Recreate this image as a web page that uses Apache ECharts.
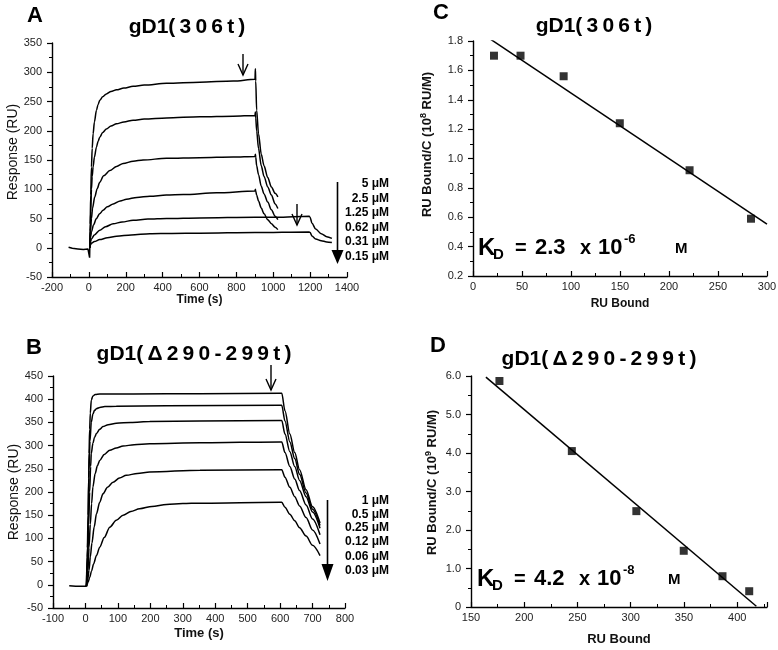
<!DOCTYPE html>
<html><head><meta charset="utf-8">
<script src="https://cdn.jsdelivr.net/npm/echarts@6/dist/echarts.min.js"></script>
<style>html,body{margin:0;padding:0;background:#fff}#c{width:778px;height:650px}</style>
</head><body><div id="c"></div>
<script>
// ---------- Panel A: gD1(306t) sensorgrams (time s, response RU) ----------
const A_baseline = [[-110,1],[-90,-1],[-60,-2],[-30,-3],[-5,-2],[3,-2],[4,-17],[5,0]];
const A_5uM   = [[5,0],[7,40],[10,90],[14,138],[18,170],[23,195],[30,215],[41,235],[50,245],[59,252],[75,258],[95,263],[120,267],[150,270],[190,273],[240,276],[300,278],[421,281],[602,283],[783,285],[901,288],[903,306],[905,285],[910,235],[920,195],[935,160],[950,140],[970,120],[990,104],[1010,93],[1025,87]];
const A_2_5uM = [[5,0],[7,28],[10,62],[14,100],[18,122],[23,138],[30,155],[41,172],[50,182],[59,189],[75,197],[95,203],[120,208],[150,212],[190,215],[240,218],[300,220],[421,222],[602,224],[783,225],[901,226],[903,232],[905,222],[910,200],[920,170],[935,140],[950,122],[970,104],[990,90],[1010,75],[1025,67]];
const A_1_25uM = [[5,0],[9,30],[14,50],[20,68],[32,87],[45,101],[59,112],[80,123],[114,132],[150,139],[186,144],[240,148],[294,150],[421,153],[602,154],[783,155],[901,156],[903,160],[905,155],[910,140],[920,125],[935,105],[950,92],[970,78],[990,65],[1010,54],[1025,48]];
const A_0_62uM = [[5,0],[9,18],[14,27],[25,39],[41,50],[58,58],[77,64],[100,70],[132,75],[170,80],[204,83],[260,86],[331,88],[420,90],[512,91],[693,94],[901,97],[903,100],[905,97],[910,90],[920,80],[935,68],[950,58],[970,48],[990,41],[1010,35],[1025,31]];
const A_0_31uM = [[5,0],[9,10],[14,15],[30,22],[59,30],[90,36],[132,41],[180,44],[240,47],[320,49],[421,50],[602,51],[901,52],[1019,52],[1195,54],[1200,52],[1210,42],[1230,32],[1260,24],[1290,19],[1318,16]];
const A_0_15uM = [[5,0],[9,5],[14,8],[30,10.5],[59,14],[100,17],[150,19.5],[230,22],[331,24],[450,24.5],[602,25],[901,26],[1195,27],[1200,26],[1210,20],[1230,15],[1260,12],[1290,10],[1318,9]];
const A_conc = ['5 μM','2.5 μM','1.25 μM','0.62 μM','0.31 μM','0.15 μM'];

// ---------- Panel B: gD1(Δ290-299t) sensorgrams ----------
const B_baseline = [[-50,-2],[-30,-3],[-10,-3],[3,-3]];
const B_1uM    = [[3,-3],[6,80],[8,150],[10,230],[11,283],[13,335],[15,370],[18,398],[23,407],[30,410],[44,411],[147,411],[353,412],[600,413],[605,413],[615,375],[630,325],[645,285],[660,248],[680,205],[700,168],[723,133]];
const B_0_5uM  = [[3,-3],[6,60],[8,120],[11,247],[14,310],[18,350],[23,368],[28,376],[35,380],[44,382],[60,384],[95,385],[250,386],[600,387],[605,387],[615,353],[630,308],[645,272],[660,238],[680,198],[700,163],[723,128]];
const B_0_25uM = [[3,-3],[6,30],[8,67],[10,130],[13,200],[16,255],[18,283],[23,305],[28,318],[34,326],[44,335],[54,341],[70,345],[95,348],[140,350],[198,352],[353,353],[600,354],[605,354],[615,325],[630,287],[645,255],[660,225],[680,190],[700,157],[723,122]];
const B_0_12uM = [[3,-3],[6,15],[8,31],[11,80],[15,130],[19,175],[23,211],[30,240],[37,257],[44,268],[58,281],[75,290],[95,295],[116,299],[150,302],[198,304],[353,306],[600,308],[605,308],[615,285],[630,255],[645,228],[660,203],[680,172],[700,142],[723,108]];
const B_0_06uM = [[3,-3],[7,12],[11,31],[15,60],[20,90],[27,125],[34,153],[44,178],[54,196],[68,210],[85,221],[105,230],[126,236],[160,240],[198,243],[353,247],[600,248],[605,248],[615,232],[630,210],[645,190],[660,170],[680,145],[700,118],[723,88]];
const B_0_03uM = [[3,-3],[8,5],[13,16],[19,30],[25,45],[34,63],[44,81],[58,102],[75,124],[95,139],[116,150],[140,158],[167,164],[205,169],[250,173],[300,175],[353,176],[600,178],[605,178],[615,167],[630,152],[645,138],[660,123],[680,105],[700,85],[723,63]];
const B_conc = ['1 μM','0.5 μM','0.25 μM','0.12 μM','0.06 μM','0.03 μM'];

// ---------- Panel C: Scatchard gD1(306t) ----------
const C_x = [21.4, 48.5, 92.5, 149.8, 221, 283.7];
const C_y = [1.70, 1.70, 1.56, 1.24, 0.92, 0.59];
const C_fit = [[17, 1.816], [300, 0.554]];

// ---------- Panel D: Scatchard gD1(Δ290-299t) ----------
const D_x = [176.7, 244.7, 305.3, 349.8, 386.2, 411.3];
const D_y = [5.87, 4.05, 2.49, 1.46, 0.80, 0.41];
const D_fit = [[164, 5.97], [418, 0.02]];

const FF = '"Liberation Sans", Arial, Helvetica, sans-serif';
const BLK = '#000';

function axisBase(gridIndex, min, max, interval, isX, fmt, extra) {
  return Object.assign({
    type: 'value', gridIndex, min, max, interval,
    axisLine: { show: true, onZero: false, lineStyle: { color: BLK, width: 1.4 } },
    axisTick: { show: true, inside: isX, length: 5, lineStyle: { color: BLK, width: 1.2 } },
    minorTick: { show: true, splitNumber: 2, length: 3, lineStyle: { color: BLK, width: 1 } },
    splitLine: { show: false },
    axisLabel: { color: '#222', fontSize: 11, fontFamily: FF, margin: isX ? 5 : 10,
      formatter: fmt || (v => String(v)) },
    nameLocation: 'middle'
  }, extra || {});
}

const lineStyleS = { color: BLK, width: 1.5 };
function curve(data, xi, smooth) {
  return { type: 'line', xAxisIndex: xi, yAxisIndex: xi, data, showSymbol: false, symbol: 'none',
    smooth: smooth === undefined ? 0.3 : smooth, smoothMonotone: 'x', lineStyle: lineStyleS, silent: true, z: 3 };
}

const option = {
  animation: false,
  backgroundColor: '#fff',
  grid: [
    { left: 52, top: 43, width: 295, height: 234, containLabel: false, outerBoundsMode: 'none' },
    { left: 53, top: 376, width: 292, height: 232, containLabel: false, outerBoundsMode: 'none' },
    { left: 473, top: 41, width: 294, height: 235, containLabel: false, outerBoundsMode: 'none' },
    { left: 471, top: 376, width: 296, height: 231, containLabel: false, outerBoundsMode: 'none' }
  ],
  xAxis: [
    axisBase(0, -200, 1400, 200, true, null, { name: 'Time (s)', nameGap: 12,
      nameTextStyle: { fontFamily: FF, fontWeight: 'bold', fontSize: 12, color: '#111' } }),
    axisBase(1, -100, 800, 100, true, null, { name: 'Time (s)', nameGap: 19,
      nameTextStyle: { fontFamily: FF, fontWeight: 'bold', fontSize: 13, color: '#111' } }),
    axisBase(2, 0, 300, 50, true, null, { name: 'RU Bound', nameGap: 22,
      nameTextStyle: { fontFamily: FF, fontWeight: 'bold', fontSize: 12, color: '#111' } }),
    axisBase(3, 150, 428, 50, true, v => (v % 50 === 0 ? String(v) : ''), { name: 'RU Bound', nameGap: 26,
      nameTextStyle: { fontFamily: FF, fontWeight: 'bold', fontSize: 13, color: '#111' } })
  ],
  yAxis: [
    axisBase(0, -50, 350, 50, false, null, { name: 'Response (RU)', nameGap: 29,
      nameTextStyle: { fontFamily: FF, fontSize: 14, color: '#111', padding: [0, 0, 0, 16] } }),
    axisBase(1, -50, 450, 50, false, null, { name: 'Response (RU)', nameGap: 32,
      nameTextStyle: { fontFamily: FF, fontSize: 14, color: '#111' } }),
    axisBase(2, 0.2, 1.8, 0.2, false, v => v.toFixed(1), {
      name: '{a|RU Bound/C (10}{s|8}{a| RU/M)}', nameGap: 38,
      nameTextStyle: { padding: [0, 0, 0, 28],
        rich: { a: { fontFamily: FF, fontWeight: 'bold', fontSize: 13, color: '#111', lineHeight: 16 },
                s: { fontFamily: FF, fontWeight: 'bold', fontSize: 9, color: '#111', verticalAlign: 'top', lineHeight: 10 } } } }),
    axisBase(3, 0, 6, 1, false, v => (v === 0 ? '0' : v.toFixed(1)), {
      name: '{a|RU Bound/C (10}{s|9}{a| RU/M)}', nameGap: 31,
      nameTextStyle: { padding: [0, 0, 0, 18],
        rich: { a: { fontFamily: FF, fontWeight: 'bold', fontSize: 13, color: '#111', lineHeight: 16 },
                s: { fontFamily: FF, fontWeight: 'bold', fontSize: 9, color: '#111', verticalAlign: 'top', lineHeight: 10 } } } })
  ],
  series: [
    curve(A_baseline, 0, false),
    curve(A_5uM, 0), curve(A_2_5uM, 0), curve(A_1_25uM, 0), curve(A_0_62uM, 0), curve(A_0_31uM, 0), curve(A_0_15uM, 0),
    curve(B_baseline, 1, false),
    curve(B_1uM, 1), curve(B_0_5uM, 1), curve(B_0_25uM, 1), curve(B_0_12uM, 1), curve(B_0_06uM, 1), curve(B_0_03uM, 1),
    { type: 'scatter', xAxisIndex: 2, yAxisIndex: 2, data: C_x.map((x, i) => [x, C_y[i]]),
      symbol: 'rect', symbolSize: 8, itemStyle: { color: BLK }, z: 4 },
    curve(C_fit, 2, false),
    { type: 'scatter', xAxisIndex: 3, yAxisIndex: 3, data: D_x.map((x, i) => [x, D_y[i]]),
      symbol: 'rect', symbolSize: 8, itemStyle: { color: BLK }, z: 4 },
    curve(D_fit, 3, false)
  ],
  graphic: []
};

// ---------- annotations (titles, panel letters, arrows, concentration lists, KD) ----------
const G = [];
function txt(x, y, text, font, align, vAlign) {
  G.push({ type: 'text', x, y, silent: true, z: 10,
    style: { text, font, fill: BLK, align: align || 'left', verticalAlign: vAlign || 'middle' } });
}
const TS = '\u2009';
const titleA = 'gD1(' + TS + '3' + TS + '0' + TS + '6' + TS + 't' + TS + ')';
const titleB = 'gD1(' + TS + 'Δ' + TS + '2' + TS + '9' + TS + '0' + TS + '-' + TS + '2' + TS + '9' + TS + '9' + TS + 't' + TS + ')';
txt(187, 27, titleA, 'bold 21px ' + FF, 'center');
txt(594, 26, titleA, 'bold 21px ' + FF, 'center');
txt(194, 354, titleB, 'bold 21px ' + FF, 'center');
txt(599, 359, titleB, 'bold 21px ' + FF, 'center');
txt(35, 16, 'A', 'bold 22px ' + FF, 'center');
txt(34, 348, 'B', 'bold 22px ' + FF, 'center');
txt(441, 13, 'C', 'bold 22px ' + FF, 'center');
txt(438, 346, 'D', 'bold 22px ' + FF, 'center');

// concentration lists
const aY = [184, 198.5, 213, 227.5, 242, 256.5];
A_conc.forEach((t, i) => txt(389, aY[i], t, 'bold 12px ' + FF, 'right'));
const bY = [501, 514.5, 528, 542, 556.5, 571];
B_conc.forEach((t, i) => txt(389, bY[i], t, 'bold 12px ' + FF, 'right'));

function bigArrow(x, y0, y1, tip) {
  G.push({ type: 'line', silent: true, z: 10, shape: { x1: x, y1: y0, x2: x, y2: y1 }, style: { stroke: BLK, lineWidth: 1.6 } });
  G.push({ type: 'polygon', silent: true, z: 10, shape: { points: [[x - 6, y1], [x + 6, y1], [x, tip]] }, style: { fill: BLK } });
}
bigArrow(337.5, 182, 250, 264);
bigArrow(327.5, 500, 564, 581);

function openArrow(x, y0, y1) {
  G.push({ type: 'line', silent: true, z: 10, shape: { x1: x, y1: y0, x2: x, y2: y1 }, style: { stroke: BLK, lineWidth: 1.4 } });
  G.push({ type: 'polyline', silent: true, z: 10, shape: { points: [[x - 5, y1 - 11], [x, y1], [x + 5, y1 - 11]] }, style: { stroke: BLK, lineWidth: 1.4, fill: null } });
}
openArrow(243, 54, 75);
openArrow(297, 204, 225);
openArrow(271, 365, 390);

// KD texts
function kd(x0, yc, num, exp, mx) {
  txt(x0, yc, 'K', 'bold 24px ' + FF, 'left');
  txt(x0 + 15, yc + 7, 'D', 'bold 15px ' + FF, 'left');
  txt(x0 + 37, yc, '=', 'bold 20px ' + FF, 'left');
  txt(x0 + 57, yc, num, 'bold 22px ' + FF, 'left');
  txt(x0 + 102, yc, 'x', 'bold 20px ' + FF, 'left');
  txt(x0 + 120, yc, '10', 'bold 22px ' + FF, 'left');
  txt(x0 + 146, yc - 9, exp, 'bold 13px ' + FF, 'left');
  txt(mx, yc + 1, 'M', 'bold 15px ' + FF, 'left');
}
kd(478, 248, '2.3', '-6', 675);
kd(477, 579, '4.2', '-8', 668);

option.graphic = G;

const chart = echarts.init(document.getElementById('c'), null, { renderer: 'canvas' });
chart.setOption(option);
</script></body></html>
